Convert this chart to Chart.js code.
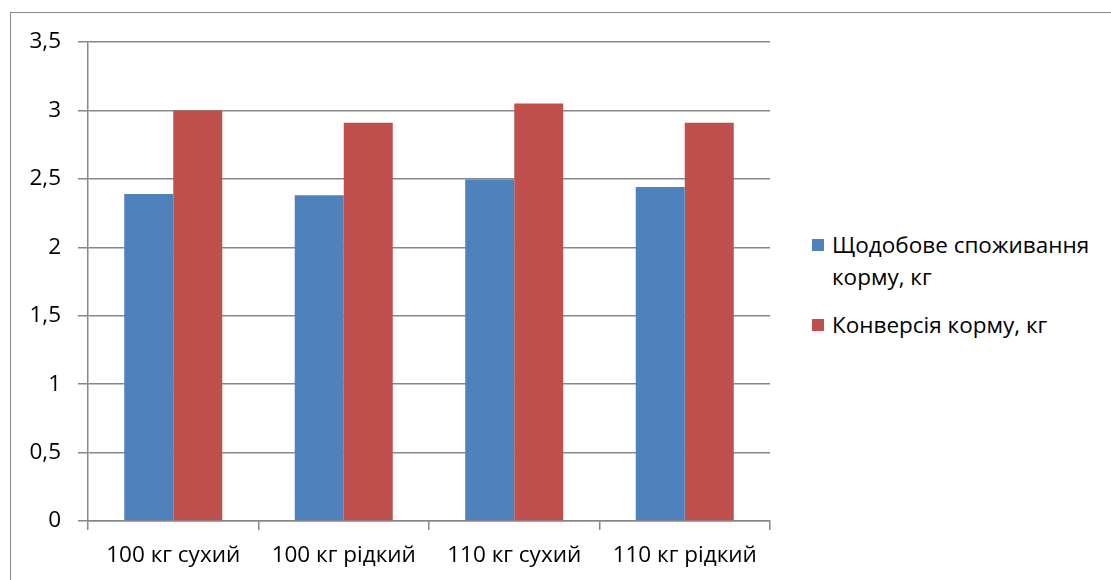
<!DOCTYPE html>
<html lang="uk">
<head>
    <meta charset="UTF-8">
    <title>Корм</title>
    <style>
        body {
            margin: 0;
            background: #fff;
            font-family: 'Open Sans', Arial, sans-serif;
        }
        #wrap {
            position: relative;
            width: 1111px;
            height: 580px;
            overflow: hidden;
        }
        #frame {
            position: absolute;
            left: 10px;
            top: 12px;
            width: 1200px;
            height: 700px;
            border: 1px solid #8a8a8a;
        }
        #canvass {
            position: absolute;
            left: 0;
            top: 0;
            width: 780px;
            height: 580px;
        }
        #legend {
            position: absolute;
            left: 812px;
            top: 229px;
            font-size: 22.5px;
            color: #000;
            white-space: nowrap;
        }
        .item {
            position: relative;
            padding-left: 20px;
            line-height: 32px;
            margin-bottom: 16px;
        }
        .box {
            position: absolute;
            left: 0;
            top: 10px;
            width: 12px;
            height: 12px;
        }
    </style>
</head>
<body>
    <div id="wrap">
        <div id="frame"></div>
        <div id="canvass">
            <canvas id="myChart"></canvas>
        </div>
        <div id="legend"></div>
    </div>

    <script src="https://cdn.jsdelivr.net/npm/chart.js@4.4.0/dist/chart.umd.min.js"></script>
    <script>
        var categories = ['100 кг сухий', '100 кг рідкий', '110 кг сухий', '110 кг рідкий'];
        var seriesNames = ['Щодобове споживання корму, кг', 'Конверсія корму, кг'];
        var dailyIntake = [2.39, 2.38, 2.495, 2.44];
        var feedConversion = [3.0, 2.91, 3.05, 2.91];
        var yTicks = [0, 0.5, 1, 1.5, 2, 2.5, 3, 3.5];

        var colors = ['#4f81bd', '#c0504d'];
        var gridColor = '#878787';
        var fontName = 'Open Sans';

        var ctx = document.getElementById('myChart').getContext('2d');

        var config = {
            type: 'bar',
            data: {
                labels: categories,
                datasets: [{
                    label: seriesNames[0],
                    data: dailyIntake,
                    backgroundColor: colors[0]
                }, {
                    label: seriesNames[1],
                    data: feedConversion,
                    backgroundColor: colors[1]
                }]
            },
            options: {
                responsive: false,
                animation: false,
                devicePixelRatio: 1,
                layout: {
                    padding: { left: 0, right: 10, top: 42, bottom: 0 }
                },
                plugins: {
                    legend: { display: false },
                    tooltip: { enabled: false }
                },
                datasets: {
                    bar: {
                        categoryPercentage: 0.575,
                        barPercentage: 1
                    }
                },
                scales: {
                    x: {
                        grid: {
                            offset: true,
                            drawOnChartArea: false,
                            color: gridColor,
                            lineWidth: 1.5,
                            tickLength: 9
                        },
                        border: { color: gridColor, width: 1.5 },
                        ticks: {
                            color: '#000',
                            font: { family: fontName, size: 22.5 },
                            padding: 12,
                            maxRotation: 0,
                            autoSkip: false
                        },
                        afterFit: function(scale) { scale.height = 59; }
                    },
                    y: {
                        min: 0,
                        max: 3.5,
                        afterBuildTicks: function(scale) {
                            scale.ticks = yTicks.map(function(v) { return { value: v }; });
                        },
                        grid: {
                            color: gridColor,
                            lineWidth: 1.5,
                            tickLength: 10
                        },
                        border: { color: gridColor, width: 1.5 },
                        ticks: {
                            color: '#000',
                            font: { family: fontName, size: 22.5 },
                            padding: 17,
                            callback: function(v) { return String(v).replace('.', ','); }
                        },
                        afterFit: function(scale) { scale.width = 88; }
                    }
                }
            }
        };

        var canvas = document.getElementById('myChart');
        canvas.width = 780;
        canvas.height = 580;
        var chart = new Chart(ctx, config);

        // legend in html, the first label wraps like in the original
        var legend = document.getElementById('legend');
        var legendText = ['Щодобове споживання<br>корму, кг', seriesNames[1]];
        seriesNames.forEach(function(name, i) {
            var item = document.createElement('div');
            item.className = 'item';
            item.innerHTML = '<span class="box" style="background:' + colors[i] + '"></span>' + legendText[i];
            legend.appendChild(item);
        });
    </script>
</body>
</html>
